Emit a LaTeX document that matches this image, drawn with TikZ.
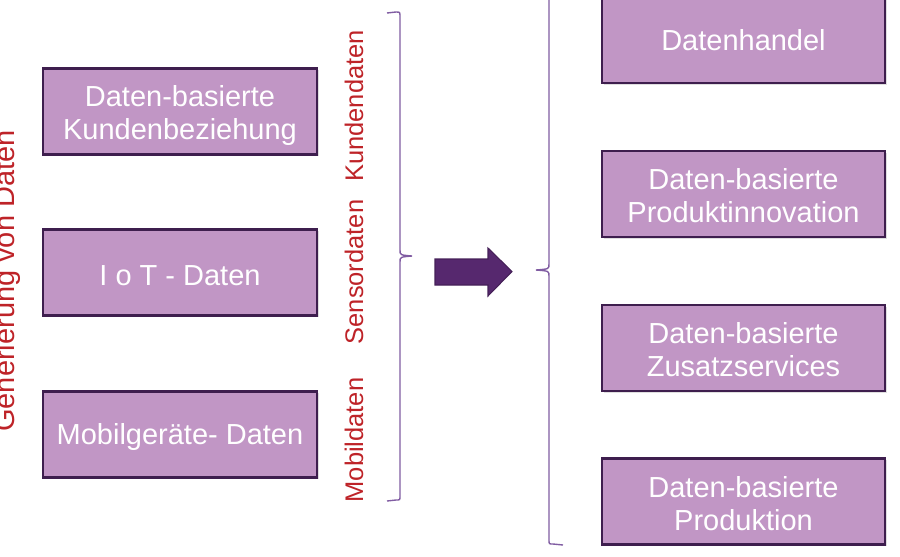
\documentclass[tikz,border=0pt]{standalone}
\usepackage{fontspec}
\setmainfont{Liberation Sans}
\usetikzlibrary{shadows}
\definecolor{boxfill}{RGB}{193,150,197}
\definecolor{boxline}{RGB}{62,30,78}
\definecolor{labred}{RGB}{190,35,40}
\definecolor{bracecol}{RGB}{128,92,162}
\definecolor{arrowfill}{RGB}{86,40,110}
\newcommand{\droptext}[1]{\rule{0pt}{#1}}

\begin{document}
\begin{tikzpicture}[x=0.02cm,y=-0.02cm,
    databox/.style={draw=boxline,line width=1.6pt,fill=boxfill,text=white,align=center,
      inner sep=0pt,font=\fontsize{16.5}{18.8}\selectfont,
      drop shadow={shadow xshift=1pt,shadow yshift=-1pt,opacity=0.25}},
    sidelabel/.style={text=labred,rotate=90,anchor=base,font=\fontsize{14.5}{16}\selectfont},
    bracket/.style={draw=bracecol,line width=0.8pt}]
    \useasboundingbox (0,0) rectangle (900,556);
    \clip (0,0) rectangle (900,556);
    % Draw the data sources on the left
    \foreach \n/\y/\d/\t in {1/111.5/16.3pt/{Daten-basierte\\Kundenbeziehung}, 2/272.5/15pt/{I o T - Daten}, 3/434.5/15pt/{Mobilgeräte- Daten}}{
      \node[databox,minimum width=5.48cm,minimum height=1.72cm] (src\n) at (180,\y) {\droptext{\d}\t};
    }
    % Draw the business models on the right
    \foreach \n/\y/\d/\t in {1/40/12pt/{Datenhandel}, 2/194/14pt/{Daten-basierte\\Produktinnovation}, 3/348/14pt/{Daten-basierte\\Zusatzservices}, 4/501.5/14pt/{Daten-basierte\\Produktion}}{
      \node[databox,minimum width=5.66cm,minimum height=1.72cm] (use\n) at (743.5,\y) {\droptext{\d}\t};
    }
    % Draw the labels
    \node[sidelabel,font=\fontsize{16.5}{18}\selectfont] (gen) at (14,281) {Generierung von Daten};
    \node[sidelabel] (kunde) at (363,106) {Kundendaten};
    \node[sidelabel] (sensor) at (363,272) {Sensordaten};
    \node[sidelabel] (mobil) at (363,440) {Mobildaten};
    % Draw the braces
    \coordinate (ltip) at (412,256);
    \coordinate (rtip) at (536,270);
    \draw[bracket] (387,13) -- (396,12) .. controls (400,12) .. (400,17) -- (400,250)
      .. controls (400,255) .. (ltip) .. controls (400,257) .. (400,262) -- (400,496)
      .. controls (400,500) .. (396,500) -- (387,501);
    \draw[bracket] (549,-10) -- (549,264) .. controls (549,269) .. (rtip)
      .. controls (549,271) .. (549,276) -- (549,540) .. controls (549,544) .. (553,544) -- (563,545);
    % Draw the arrow
    \filldraw[fill=arrowfill,draw=arrowfill!80!black,line width=0.6pt]
      (435,259) -- (488,259) -- (488,248) -- (512,271.5) -- (488,296) -- (488,285) -- (435,285) -- cycle;
\end{tikzpicture}
\end{document}
